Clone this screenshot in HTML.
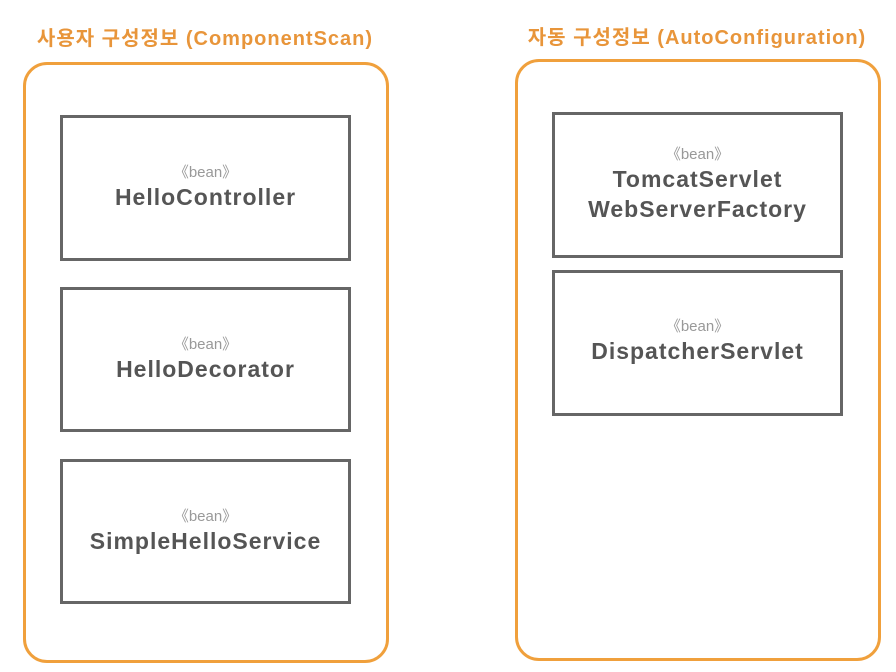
<!DOCTYPE html>
<html><head><meta charset="utf-8"><style>
body{margin:0;width:896px;height:672px;background:#fff;position:relative;overflow:hidden;font-family:"Liberation Sans","Noto Sans CJK KR",sans-serif}
.t{position:absolute;color:#e8953a;font-weight:bold;font-size:20px;text-align:center;width:420px;letter-spacing:1px}
.o{position:absolute;border:3px solid #f0a03c;border-radius:24px;box-sizing:border-box}
.b{position:absolute;border:3px solid #666;box-sizing:border-box;text-align:center;color:#555;font-weight:bold;font-size:23px;letter-spacing:1px;line-height:30px;display:flex;flex-direction:column;justify-content:center}
.b small{display:block;font-size:15px;color:#999;font-weight:normal;line-height:18px;letter-spacing:0}
</style></head><body>
<div class="t" style="left:-5px;top:22px">사용자 구성정보 (ComponentScan)</div>
<div class="t" style="left:487px;top:21px">자동 구성정보 (AutoConfiguration)</div>
<div class="o" style="left:23px;top:62px;width:366px;height:601px"></div>
<div class="o" style="left:515px;top:59px;width:366px;height:602px"></div>
<div class="b" style="left:60px;top:115px;width:291px;height:146px"><small>《bean》</small>HelloController</div>
<div class="b" style="left:60px;top:287px;width:291px;height:145px"><small>《bean》</small>HelloDecorator</div>
<div class="b" style="left:60px;top:459px;width:291px;height:145px"><small>《bean》</small>SimpleHelloService</div>
<div class="b" style="left:552px;top:112px;width:291px;height:146px"><small>《bean》</small>TomcatServlet<br>WebServerFactory</div>
<div class="b" style="left:552px;top:270px;width:291px;height:146px;justify-content:flex-start;padding-top:45px"><small>《bean》</small>DispatcherServlet</div>
</body></html>
